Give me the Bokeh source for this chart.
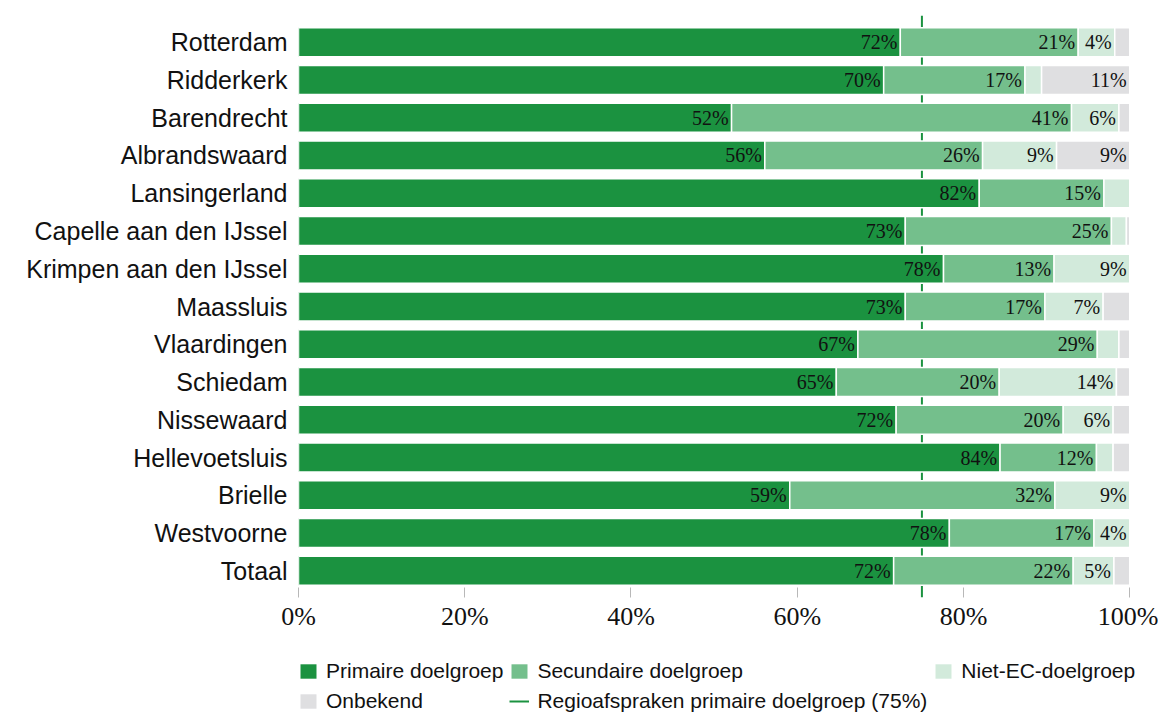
from bokeh.plotting import figure
from bokeh.models import (ColumnDataSource, FactorRange, Range1d, Span, Legend, LegendItem,
                          FixedTicker)
from bokeh.layouts import column
from bokeh.core.properties import value
from bokeh.embed import file_html
from bokeh.resources import INLINE

cities = ["Rotterdam", "Ridderkerk", "Barendrecht", "Albrandswaard", "Lansingerland",
          "Capelle aan den IJssel", "Krimpen aan den IJssel", "Maassluis", "Vlaardingen",
          "Schiedam", "Nissewaard", "Hellevoetsluis", "Brielle", "Westvoorne", "Totaal"]
primair = [72.4, 70.4, 52.1, 56.1, 81.9, 73.0, 77.6, 73.0, 67.3, 64.7, 71.9, 84.4, 59.1, 78.3, 71.6]
secundair = [21.4, 17.0, 40.9, 26.2, 15.0, 24.8, 13.3, 16.8, 28.8, 19.6, 20.1, 11.6, 31.9, 17.4, 21.6]
niet_ec = [4.4, 2.0, 5.7, 8.9, 3.1, 1.8, 9.1, 7.0, 2.6, 14.1, 6.0, 2.0, 9.0, 4.3, 4.9]
onbekend = [1.8, 10.6, 1.3, 8.8, 0.0, 0.4, 0.0, 3.2, 1.3, 1.6, 2.0, 2.0, 0.0, 0.0, 1.9]
regio_norm = 75
series_names = ["Primaire doelgroep", "Secundaire doelgroep", "Niet-EC-doelgroep", "Onbekend"]
ticks = [0, 20, 40, 60, 80, 100]

colors = ["#1b9240", "#74bf8c", "#d2eadb", "#dfdfe1"]
line_color = "#1b9240"
keys = ["p", "s", "n", "o"]

src = ColumnDataSource(dict(city=cities, p=primair, s=secundair, n=niet_ec, o=onbekend))

# frame extended a little past 100% so the legend below (aligned to this frame) is not clipped
p = figure(frame_width=852, frame_height=582, output_backend="svg", toolbar_location=None,
           y_range=FactorRange(factors=list(reversed(cities)), range_padding=0.207,
                               range_padding_units="absolute"),
           x_range=Range1d(0, 102.5),
           min_border_left=298, min_border_right=8, min_border_top=15, min_border_bottom=55)
p.outline_line_color = None
p.xgrid.visible = False
p.ygrid.visible = False

span = Span(location=regio_norm, dimension="height", line_color=line_color, line_width=2,
            level="underlay")
p.add_layout(span)

rs = p.hbar_stack(keys, y="city", height=0.77, color=colors, source=src,
                  line_color="white", line_width=1.5)

# labels
lx, ly, lt = [], [], []
for i, c in enumerate(cities):
    cum = 0
    for arr in (primair, secundair, niet_ec, onbekend):
        v = arr[i]
        cum += v
        if v >= 3.5:
            lx.append(cum)
            ly.append(c)
            lt.append(f"{round(v)}%")
p.text(x=lx, y=ly, text=lt, x_offset=-3, text_align="right", text_baseline="middle",
       text_font=value("Liberation Serif"), text_font_size="20px", text_color="#111111")

p.xaxis.ticker = FixedTicker(ticks=ticks)
p.xaxis.major_label_overrides = {t: f"{t}%" for t in ticks}
p.xaxis.axis_line_color = None
p.xaxis.major_tick_in = 10
p.xaxis.major_tick_out = 0
p.xaxis.major_tick_line_color = "#b8b8b8"
p.xaxis.minor_tick_line_color = None
p.xaxis.major_label_text_font = "Liberation Serif"
p.xaxis.major_label_text_font_size = "26px"
p.xaxis.major_label_text_color = "#111111"
p.xaxis.major_label_standoff = 4

p.yaxis.axis_line_color = None
p.yaxis.major_tick_line_color = None
p.yaxis.major_label_text_font = "Liberation Sans"
p.yaxis.major_label_text_font_size = "25px"
p.yaxis.major_label_text_color = "#111111"
p.yaxis.major_label_standoff = 5

# legend figure
lf = figure(width=1158, height=61, output_backend="svg", toolbar_location=None,
            x_range=Range1d(0, 1), y_range=Range1d(0, 1),
            min_border_left=0, min_border_right=0, min_border_top=0, min_border_bottom=0)
lf.axis.visible = False
lf.grid.visible = False
lf.outline_line_color = None
leg_r = [lf.quad(left=[-5], right=[-4], bottom=[-5], top=[-4], fill_color=c, line_color=None)
         for c in colors]
leg_line = lf.line(x=[-5, -4], y=[-5, -5], line_color=line_color, line_width=2)

items = [LegendItem(label=series_names[i], renderers=[leg_r[i]]) for i in range(4)]
items.append(LegendItem(label=f"Regioafspraken primaire doelgroep ({regio_norm}%)", renderers=[leg_line]))
legend = Legend(items=items, ncols=3, orientation="horizontal", location=(0, 0),
                label_text_font="Liberation Sans", label_text_font_size="21px",
                label_text_color="#111111", glyph_width=20, glyph_height=18,
                label_standoff=8, spacing=6, padding=0, margin=0,
                border_line_color=None, background_fill_alpha=0)
lf.add_layout(legend, "center")

layout = column(p, lf, spacing=0)
open("out.html", "w").write(file_html(layout, INLINE))
